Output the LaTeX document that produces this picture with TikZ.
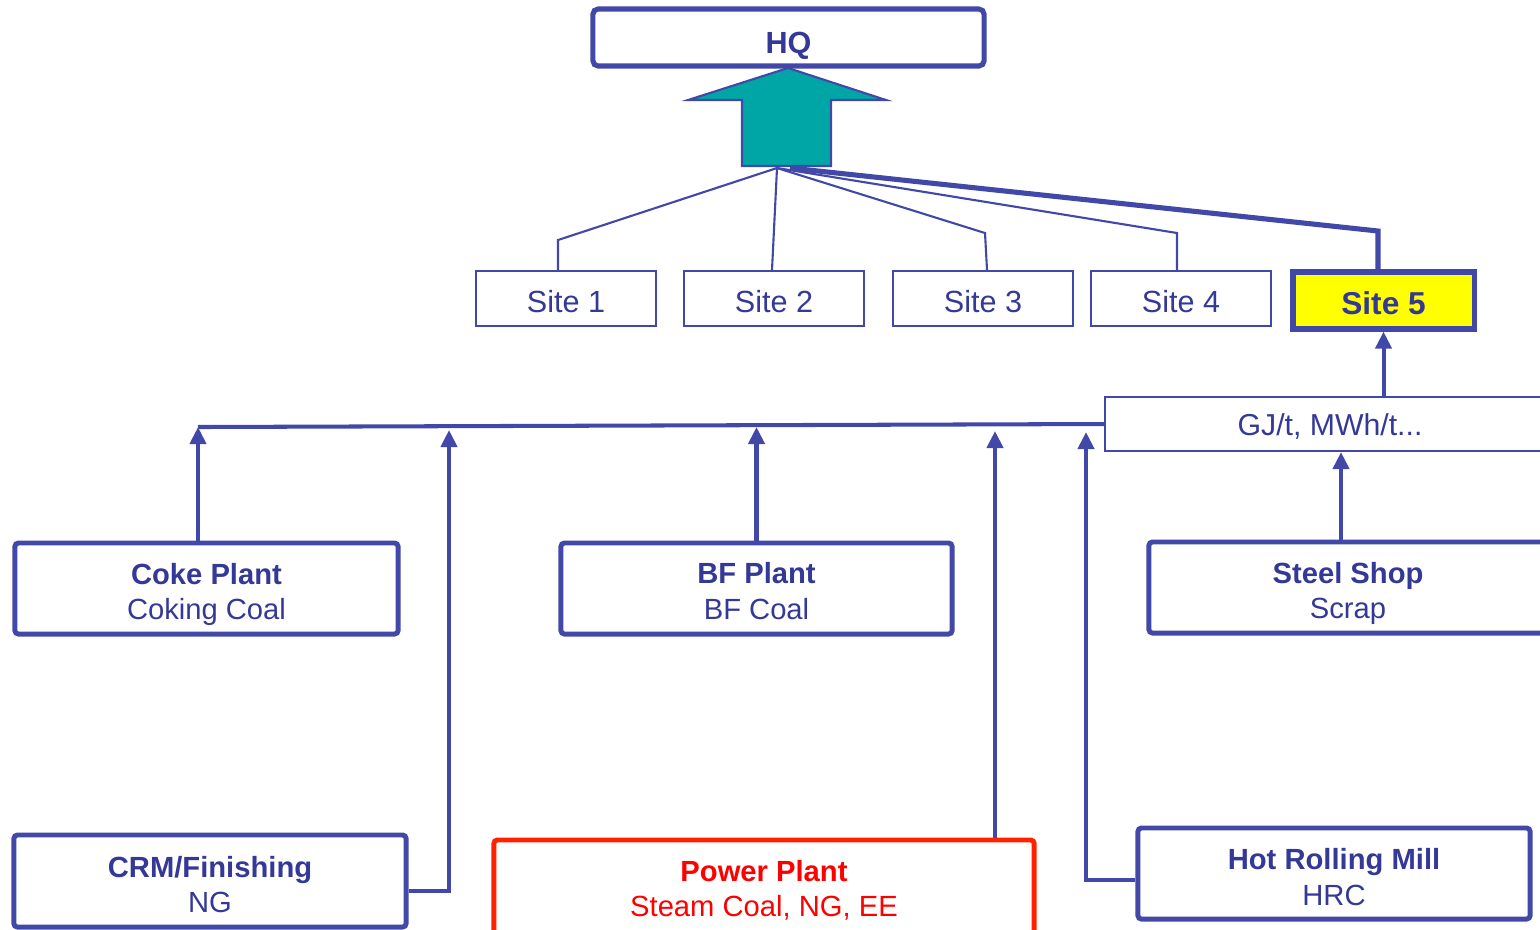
\documentclass[tikz,border=0pt]{standalone}
\usepackage{fontspec}
\setmainfont{Liberation Sans}
\usetikzlibrary{arrows.meta, positioning}

\definecolor{lineblue}{RGB}{66,72,168}
\definecolor{textblue}{RGB}{52,56,150}
\definecolor{hubteal}{RGB}{0,166,166}
\definecolor{sitefill}{RGB}{255,255,0}
\definecolor{alertred}{RGB}{255,34,0}
\definecolor{alerttext}{RGB}{255,0,0}

\newcommand\plantstrut[1][9.5pt]{\rule{0pt}{#1}}

\begin{document}
\begin{tikzpicture}[
    x=0.01cm, y=-0.01cm,
    hqbox/.style    = {draw=lineblue, line width=1.45pt, rounded corners=1.5pt,
                       inner sep=0pt, text=textblue, text height=9.1pt, text depth=0pt,
                       font=\fontsize{8.7}{10}\selectfont\bfseries},
    sitebox/.style  = {draw=lineblue, line width=0.6pt, inner sep=0pt,
                       minimum width=1.80cm, minimum height=0.55cm,
                       text=textblue, text height=8pt, text depth=0pt,
                       font=\fontsize{8.7}{10}\selectfont},
    plantbox/.style = {draw=lineblue, line width=1.4pt, rounded corners=1pt,
                       inner sep=0pt, align=center, text=textblue,
                       font=\fontsize{8.3}{10}\selectfont},
    link/.style     = {lineblue, line width=0.6pt},
    bus/.style      = {lineblue, line width=1.15pt},
    feed/.style     = {lineblue, line width=1.15pt,
                       -{Triangle[width=0.16cm, length=0.17cm]}},
]
\useasboundingbox (0,0) rectangle (1540,929);

%% Top: HQ and the aggregation arrow
\node[hqbox, minimum width=3.91cm, minimum height=0.57cm] (hq) at (788.5,37.5) {HQ};
\draw[lineblue, line width=0.6pt, fill=hubteal]
  (742,166) -- (742,100) -- (688,100) -- (788,68) -- (886,100)
  -- (831,100) -- (831,166) -- cycle;
\coordinate (hub)  at (777,168);
\coordinate (hub5) at (790,168);

%% Sites
\node[sitebox] (site1) at (566,298.5)  {Site 1};
\node[sitebox] (site2) at (774,298.5)  {Site 2};
\node[sitebox] (site3) at (983,298.5)  {Site 3};
\node[sitebox] (site4) at (1181,298.5) {Site 4};
\node[sitebox, fill=sitefill, line width=1.45pt, minimum width=1.81cm,
      minimum height=0.57cm, font=\fontsize{9}{10}\selectfont\bfseries]
      (site5) at (1383.5,300.5) {Site 5};

%% Site links
\draw[link] (hub) -- (558,240) -- ([xshift=-0.08cm]site1.north);
\draw[link] (hub) -- ([xshift=-0.02cm]site2.north);
\draw[link] (hub) -- (985,233) -- ([xshift=0.04cm]site3.north);
\draw[link] (hub) -- (1177,233) -- ([xshift=-0.04cm]site4.north);
\draw[lineblue, line width=1.45pt] (hub5) -- (1378,231) -- ([xshift=-0.055cm]site5.north);

%% KPI box and bus
\node[draw=lineblue, line width=0.6pt, inner sep=0pt, minimum width=4.5cm,
      minimum height=0.54cm, text=textblue, text height=8pt, text depth=1.5pt,
      font=\fontsize{8.6}{10}\selectfont]
      (gj) at (1330,424) {GJ/t, MWh/t...};
\draw[feed] (site5.south |- gj.north) -- (site5.south);
\coordinate (busL)   at (198,427);
\coordinate (crmUp)  at (449,430);
\coordinate (pwrUp)  at (995,431);
\coordinate (hrmUp)  at (1086,432);
\draw[bus] (busL) -- (gj.west);

%% Plants
\node[plantbox, minimum width=3.83cm, minimum height=0.91cm] (coke)  at (206.5,588.5)
  {\plantstrut\textbf{Coke Plant}\\Coking Coal};
\node[plantbox, minimum width=3.91cm, minimum height=0.91cm] (bf)    at (756.5,588.5)
  {\plantstrut[7.5pt]\textbf{BF Plant}\\BF Coal};
\node[plantbox, minimum width=3.98cm, minimum height=0.91cm] (steel) at (1348,587.5)
  {\plantstrut\textbf{Steel Shop}\\Scrap};
\node[plantbox, minimum width=3.92cm, minimum height=0.92cm] (crm)   at (210,881)
  {\plantstrut[8pt]\textbf{CRM/Finishing}\\NG};
\node[plantbox, draw=alertred, text=alerttext, minimum width=5.40cm,
      minimum height=0.96cm] (power) at (764,888)
  {\plantstrut[7.5pt]\textbf{Power Plant}\\Steam Coal, NG, EE};
\node[plantbox, minimum width=3.92cm, minimum height=0.91cm] (hrm)   at (1334,873.5)
  {\plantstrut[8pt]\textbf{Hot Rolling Mill}\\HRC};

%% Feeds into the bus
\draw[feed] (busL |- coke.north) -- (busL);
\draw[feed] ([yshift=-0.10cm]crm.east) -| (crmUp);
\draw[feed] (bf.north) -- (bf.north |- busL);
\draw[feed] (pwrUp |- power.north) -- (pwrUp);
\draw[feed] ([yshift=-0.065cm]hrm.west) -| (hrmUp);
\draw[feed] ([xshift=-0.07cm]steel.north) -- ([xshift=-0.07cm]steel.north |- gj.south);

\end{tikzpicture}
\end{document}
